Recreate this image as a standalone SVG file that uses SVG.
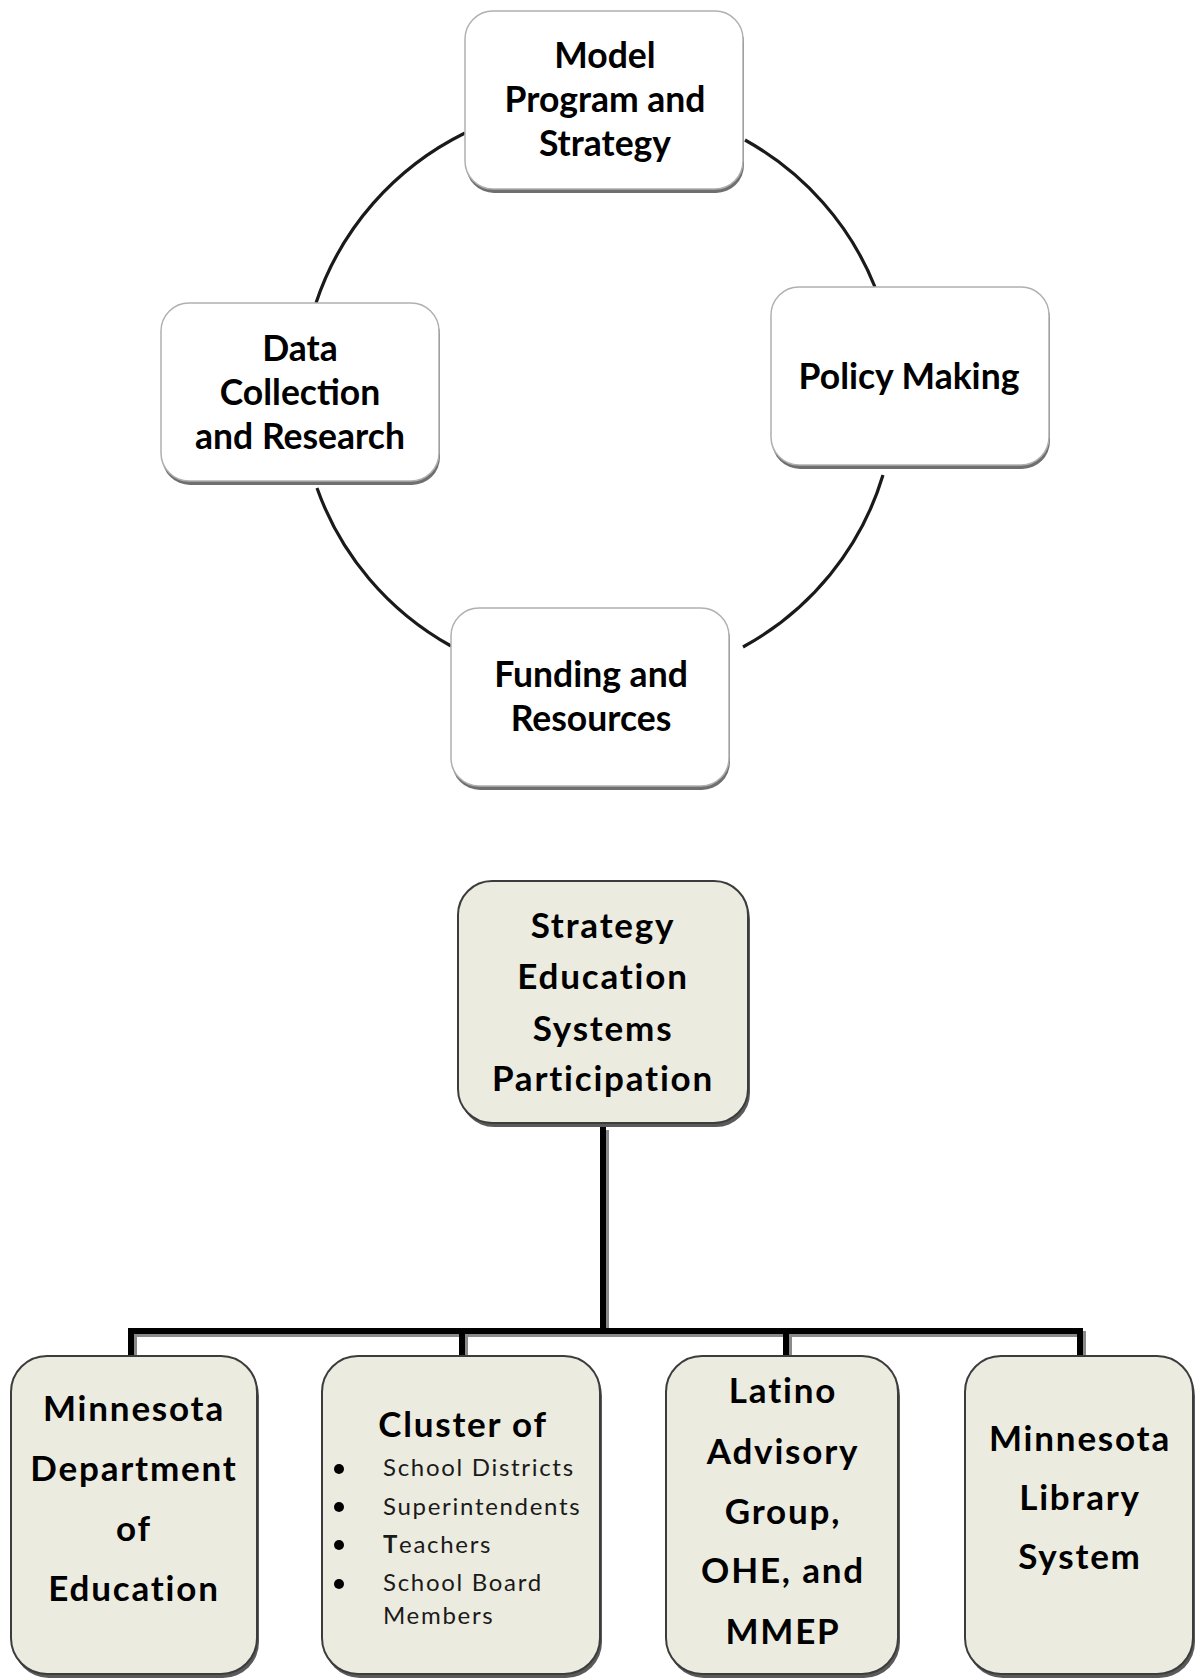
<svg xmlns="http://www.w3.org/2000/svg" width="1196" height="1680" viewBox="0 0 1196 1680">
<defs>
<style>
.ring{fill:none;stroke:#1a1a1a;stroke-width:3.2}
.wshadow{fill:#6f6f6f}
.wbox{fill:#ffffff;stroke:#b0b0b0;stroke-width:1.5}
.bshadow{fill:#5a5a5a}
.bbox{fill:#ecebe0;stroke:#3c3c3c;stroke-width:2}
.t1{font-family:Lato,"Liberation Sans",sans-serif;font-weight:bold;font-size:35.5px;fill:#000;text-anchor:middle}
.t2{font-family:Lato,"Liberation Sans",sans-serif;font-weight:bold;font-size:35px;fill:#000;text-anchor:middle;letter-spacing:1.8px}
.t3{font-family:Lato,"Liberation Sans",sans-serif;font-weight:normal;font-size:24px;fill:#1a1a1a;letter-spacing:1.7px}
.bar{fill:none;stroke:#000;stroke-width:6}
.barsh{fill:none;stroke:#8a8a8a;stroke-width:6}
</style>
</defs>
<rect width="1196" height="1680" fill="#ffffff"/>
<g id="connectors">
<path class="ring" d="M745,140 A297,291 0 0 1 875,287"/>
<path class="ring" d="M883,475 A297,291 0 0 1 743,647"/>
<path class="ring" d="M451,646 A297,291 0 0 1 317,488"/>
<path class="ring" d="M316,303 A297,291 0 0 1 465,133"/>
<path class="barsh" d="M606,1130 V1334 M134,1360 V1334 H1083 V1360 M465,1334 V1360 M789,1334 V1360"/>
<path class="bar" d="M603,1127 V1331 M131,1358 V1331 H1080 V1358 M462,1331 V1358 M786,1331 V1358"/>
</g>
<g id="model">
<rect class="wshadow" x="466" y="15" width="278" height="178" rx="28"/>
<rect class="wbox" x="465" y="11" width="278" height="178" rx="28"/>
<text class="t1" x="605" y="68">Model</text>
<text class="t1" x="605" y="112">Program and</text>
<text class="t1" x="605" y="156">Strategy</text>
</g>
<g id="policy">
<rect class="wshadow" x="772" y="291" width="278" height="178" rx="28"/>
<rect class="wbox" x="771" y="287" width="278" height="178" rx="28"/>
<text class="t1" x="909" y="389">Policy Making</text>
</g>
<g id="data">
<rect class="wshadow" x="162" y="307" width="278" height="178" rx="28"/>
<rect class="wbox" x="161" y="303" width="278" height="178" rx="28"/>
<text class="t1" x="300" y="361">Data</text>
<text class="t1" x="300" y="405">Collection</text>
<text class="t1" x="300" y="449">and Research</text>
</g>
<g id="funding">
<rect class="wshadow" x="452" y="612" width="278" height="178" rx="28"/>
<rect class="wbox" x="451" y="608" width="278" height="178" rx="28"/>
<text class="t1" x="591" y="687">Funding and</text>
<text class="t1" x="591" y="731">Resources</text>
</g>
<g id="strategy">
<rect class="bshadow" x="460" y="885" width="290" height="242" rx="34"/>
<rect class="bbox" x="458" y="881" width="290" height="242" rx="34"/>
<text class="t2" x="603" y="938">Strategy</text>
<text class="t2" x="603" y="989">Education</text>
<text class="t2" x="603" y="1041">Systems</text>
<text class="t2" x="603" y="1091">Participation</text>
</g>
<g id="mde">
<rect class="bshadow" x="13" y="1360" width="246" height="318" rx="36"/>
<rect class="bbox" x="11" y="1356" width="246" height="318" rx="36"/>
<text class="t2" x="134" y="1421">Minnesota</text>
<text class="t2" x="134" y="1481">Department</text>
<text class="t2" x="134" y="1541">of</text>
<text class="t2" x="134" y="1601">Education</text>
</g>
<g id="cluster">
<rect class="bshadow" x="324" y="1360" width="278" height="318" rx="36"/>
<rect class="bbox" x="322" y="1356" width="278" height="318" rx="36"/>
<text class="t2" x="463" y="1437">Cluster of</text>
<circle cx="339" cy="1469" r="5" fill="#000"/>
<circle cx="339" cy="1507" r="5" fill="#000"/>
<circle cx="339" cy="1545" r="5" fill="#000"/>
<circle cx="339" cy="1584" r="5" fill="#000"/>
<text class="t3" x="383" y="1476">School Districts</text>
<text class="t3" x="383" y="1515">Superintendents</text>
<text class="t3" x="383" y="1553"><tspan font-weight="bold">T</tspan>eachers</text>
<text class="t3" x="383" y="1591">School Board</text>
<text class="t3" x="383" y="1624">Members</text>
</g>
<g id="latino">
<rect class="bshadow" x="668" y="1360" width="232" height="318" rx="36"/>
<rect class="bbox" x="666" y="1356" width="232" height="318" rx="36"/>
<text class="t2" x="783" y="1403">Latino</text>
<text class="t2" x="783" y="1464">Advisory</text>
<text class="t2" x="783" y="1524">Group,</text>
<text class="t2" x="783" y="1583">OHE, and</text>
<text class="t2" x="783" y="1644">MMEP</text>
</g>
<g id="library">
<rect class="bshadow" x="967" y="1360" width="228" height="318" rx="36"/>
<rect class="bbox" x="965" y="1356" width="228" height="318" rx="36"/>
<text class="t2" x="1080" y="1451">Minnesota</text>
<text class="t2" x="1080" y="1510">Library</text>
<text class="t2" x="1080" y="1569">System</text>
</g>
</svg>
